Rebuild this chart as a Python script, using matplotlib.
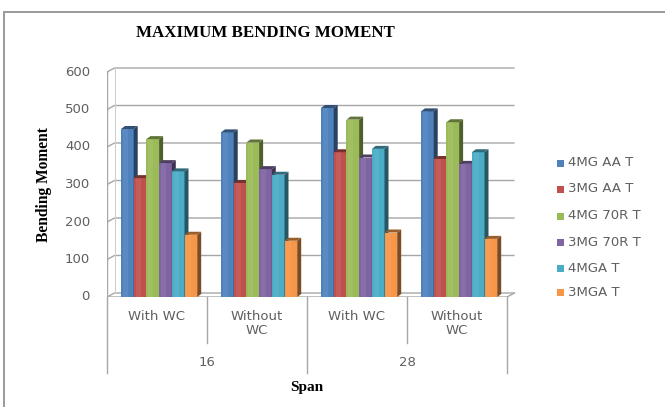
import matplotlib
matplotlib.use("Agg")
import matplotlib.pyplot as plt
from matplotlib.patches import Polygon, Rectangle
import numpy as np

# ---- data -------------------------------------------------------------
spans = ["16", "28"]
cases = ["With WC", "Without\nWC", "With WC", "Without\nWC"]
series = ["4MG AA T", "3MG AA T", "4MG 70R T", "3MG 70R T", "4MGA T", "3MGA T"]
mg4_aa = [448, 439, 504, 495]
mg3_aa = [317, 304, 386, 368]
mg4_70r = [421, 412, 473, 466]
mg3_70r = [357, 341, 372, 355]
mg4_a = [335, 326, 395, 386]
mg3_a = [166, 150, 172, 155]
values = [mg4_aa, mg3_aa, mg4_70r, mg3_70r, mg4_a, mg3_a]
yticks = [0, 100, 200, 300, 400, 500, 600]

colors = ["#4F81BD", "#C0504D", "#9BBB59", "#8064A2", "#4BACC6", "#F79646"]
label_font = "DejaVu Sans"
text_gray = "#5F5F5F"


def shade(c, f):
    r, g, b = matplotlib.colors.to_rgb(c)
    return (r * f, g * f, b * f)


W, H = 665, 407
fig = plt.figure(figsize=(W / 100, H / 100), dpi=100)
fig.patch.set_facecolor("white")

# plot area in pixels: front floor at y=297, x from 107
x0px, x1px = 107, 527
ybot, ytop = 297, 60
ax = fig.add_axes([x0px / W, (H - ybot) / H, (x1px - x0px) / W, (ybot - ytop) / H])
ax.set_xlim(-0.5, 3.7)
ax.set_ylim(0, (ybot - ytop) / 0.375)
ax.axis("off")

gray = "#A6A6A6"
dxw, dyw = 0.075, 4 / 0.375          # depth offset of the back wall
xr = len(cases) - 0.5

# back wall gridlines with side-wall diagonals
for v in yticks:
    ax.plot([-0.5, -0.5 + dxw, xr + dxw], [v, v + dyw, v + dyw],
            color=gray, lw=1.0, solid_capstyle="butt", zorder=1)
    ax.plot([-0.56, -0.5], [v, v], color=gray, lw=1.0, zorder=1)
# vertical axis and floor edges
ax.plot([-0.5, -0.5], [0, yticks[-1]], color=gray, lw=1.0, zorder=1)
ax.plot([-0.5 + dxw, -0.5 + dxw], [dyw, yticks[-1] + dyw], color="#D0D0D0", lw=0.8, zorder=1)
ax.plot([-0.5, xr, xr + dxw], [0, 0, dyw], color=gray, lw=1.0, zorder=1)

for v in yticks:
    ax.text(-0.67, v, str(v), ha="right", va="center", fontsize=9.5,
            color=text_gray, family=label_font)

# 3-D style bars: front faces via ax.bar, side and top faces from the same values
bw = 0.127
sd, td = 0.04, 3 / 0.375
lead = 0.14
for s, (vals, col) in enumerate(zip(values, colors)):
    xs = np.arange(len(cases)) - 0.5 + lead + s * bw
    ax.bar(xs, vals, width=bw, align="edge", color=col, edgecolor="none", zorder=3 + s)
    for x, v in zip(xs, vals):
        side = Polygon([(x + bw, 0), (x + bw + sd, td), (x + bw + sd, v + td), (x + bw, v)],
                       closed=True, facecolor=shade(col, 0.5), edgecolor="none", zorder=3 + s)
        top = Polygon([(x, v), (x + bw, v), (x + bw + sd, v + td), (x + sd, v + td)],
                      closed=True, facecolor=shade(col, 0.62), edgecolor="none", zorder=3 + s)
        ax.add_patch(side)
        ax.add_patch(top)
        # soft highlight on the front face
        ax.add_patch(Rectangle((x + bw * 0.15, 0), bw * 0.4, v, facecolor="white",
                               alpha=0.07, edgecolor="none", zorder=3 + s))

# category axis: case labels, span labels and separators
def py(px):
    return (ybot - px) / 0.375

for i, c in enumerate(cases):
    ax.text(i, py(310), c, ha="center", va="top", fontsize=9.5, color=text_gray,
            family=label_font, linespacing=1.15)
for i, sp in enumerate(spans):
    ax.text(0.5 + 2 * i, py(363), sp, ha="center", va="center", fontsize=9.5,
            color=text_gray, family=label_font)
for k in range(len(cases) + 1):
    bottom = py(373) if k % 2 == 0 else py(343)
    ax.plot([k - 0.5, k - 0.5], [0, bottom], color=gray, lw=1.0, clip_on=False, zorder=1)

ax.text(1.5, py(387), "Span", ha="center", va="center", fontsize=11,
        fontweight="bold", family="Liberation Serif", color="black")

# title and y label
fig.text(265 / W, 1 - 33 / H, "MAXIMUM BENDING MOMENT", ha="center", va="center",
         fontsize=12.2, fontweight="bold", family="Liberation Serif")
fig.text(44 / W, 1 - 185 / H, "Bending Moment", ha="center", va="center", rotation=90,
         fontsize=11.2, fontweight="bold", family="Liberation Serif")

# legend
leg_y = [163, 189, 216, 242, 268, 292]
for name, col, yy in zip(series, colors, leg_y):
    fig.patches.append(Rectangle((557 / W, 1 - (yy + 3.5) / H), 7 / W, 7 / H,
                                 transform=fig.transFigure, facecolor=col, edgecolor="none"))
    fig.text(568 / W, 1 - yy / H, name, ha="left", va="center", fontsize=9.5,
             color=text_gray, family=label_font)

# chart frame
fig.patches.append(Rectangle((3.5 / W, -0.05), 1.2, 1 - 12 / H + 0.05, transform=fig.transFigure,
                             facecolor="none", edgecolor="#9A9A9A", lw=1.4))

fig.savefig("out.png", dpi=100)
